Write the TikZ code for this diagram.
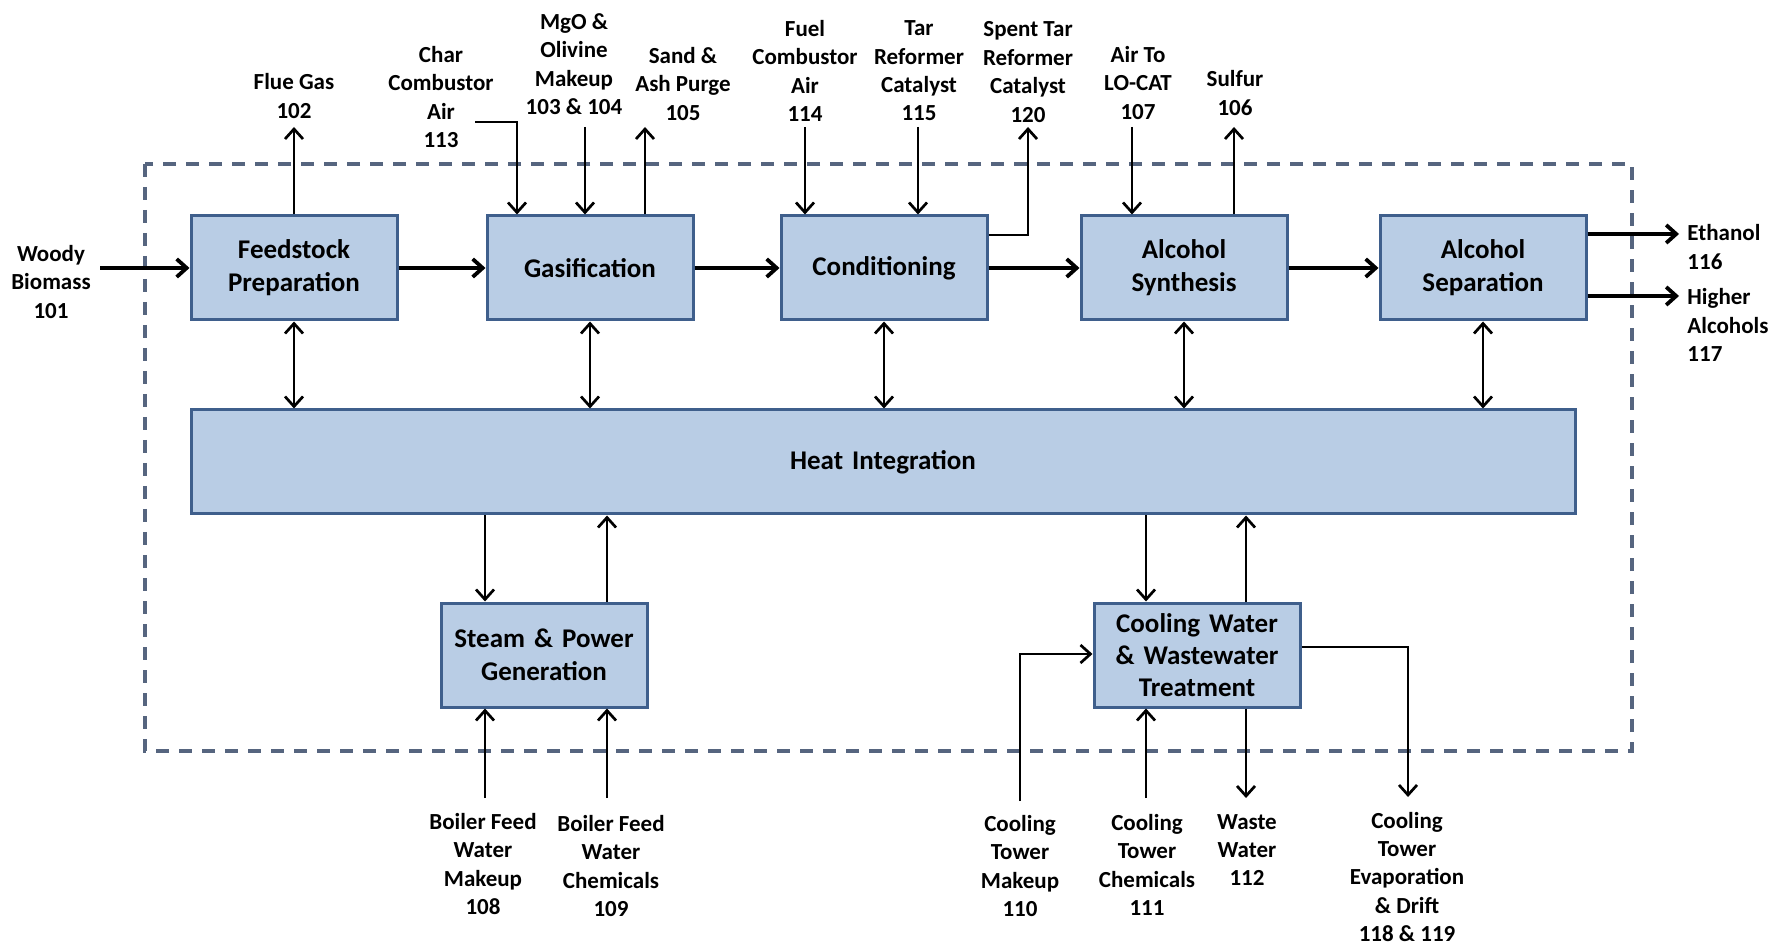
\documentclass[tikz,border=0pt]{standalone}
\usepackage{fontspec}
\setmainfont{Carlito}
\usetikzlibrary{arrows.meta, positioning, calc}
\definecolor{boxfill}{HTML}{B9CDE5}
\definecolor{boxedge}{HTML}{3F5F8C}
\definecolor{limit}{HTML}{56657F}

\begin{document}
\begin{tikzpicture}[x=0.5pt, y=-0.5pt,
    unit/.style={rectangle, draw=boxedge, fill=boxfill, line width=1.5pt, text width=97pt, align=center, inner sep=2pt, minimum width=103pt, minimum height=52pt, font=\fontsize{13.5}{16.5}\selectfont\bfseries},
    stream/.style={align=center, inner sep=0pt, font=\fontsize{11.5}{14.2}\selectfont\bfseries},
    arrow/.style={-{Straight Barb[length=5pt,width=9pt]}, line width=1.35pt},
    main/.style={arrow, line width=1.9pt},
    both/.style={{Straight Barb[length=5pt,width=9pt]}-{Straight Barb[length=5pt,width=9pt]}, line width=1.35pt},
    boundary/.style={draw=limit, line width=1.7pt, dash pattern=on 6.5pt off 5pt}
]
    \useasboundingbox (0,0) rectangle (1775,945);

    % Battery limits
    \draw[boundary] (145,164) rectangle (1632,751);

    % Process areas
    \node[unit] (feed) at (294,268) {Feedstock\\Preparation};
    \node[unit] (gas) at (590,268) {Gasification};
    \node[unit] (cond) at (884,268) {Conditioning};
    \node[unit] (syn) at (1184,268) {Alcohol\\Synthesis};
    \node[unit] (sep) at (1483,268) {Alcohol\\Separation};
    \node[unit, minimum width=692pt] (heat) at (883,462) {Heat Integration};
    \node[unit] (steam) at (544,655) {Steam \& Power\\Generation};
    \node[unit, font=\fontsize{13.5}{16}\selectfont\bfseries] (cool) at (1197,655) {Cooling Water\\\& Wastewater\\Treatment};

    % Stream labels
    \node[stream] (l101) at (51,282) {Woody\\Biomass\\101};
    \node[stream] (l102) at (294,96) {Flue Gas\\102};
    \node[stream] (l113) at (441,97) {Char\\Combustor\\Air\\113};
    \node[stream] (l103) at (574,64) {MgO \&\\Olivine\\Makeup\\103 \& 104};
    \node[stream] (l105) at (683,84) {Sand \&\\Ash Purge\\105};
    \node[stream] (l114) at (805,71) {Fuel\\Combustor\\Air\\114};
    \node[stream] (l115) at (919,71) {Tar\\Reformer\\Catalyst\\115};
    \node[stream] (l120) at (1028,72) {Spent Tar\\Reformer\\Catalyst\\120};
    \node[stream] (l107) at (1138,83) {Air To\\LO-CAT\\107};
    \node[stream] (l106) at (1235,93) {Sulfur\\106};
    \node[stream, align=left, anchor=west] (l116) at (1687,247) {Ethanol\\116};
    \node[stream, align=left, anchor=west] (l117) at (1687,325) {Higher\\Alcohols\\117};
    \node[stream] (l108) at (483,864) {Boiler Feed\\Water\\Makeup\\108};
    \node[stream] (l109) at (611,866) {Boiler Feed\\Water\\Chemicals\\109};
    \node[stream] (l110) at (1020,866) {Cooling\\Tower\\Makeup\\110};
    \node[stream] (l111) at (1147,865) {Cooling\\Tower\\Chemicals\\111};
    \node[stream] (l112) at (1247,850) {Waste\\Water\\112};
    \node[stream] (l118) at (1407,877) {Cooling\\Tower\\Evaporation\\\& Drift\\118 \& 119};

    % Free ends and bends
    \coordinate (s101) at (100,268);
    \coordinate (e102) at (294,127);
    \coordinate (s113) at (475,122);
    \coordinate (k113) at (517,122);
    \coordinate (s103) at (585,127);
    \coordinate (e105) at (645,127);
    \coordinate (s114) at (805,127);
    \coordinate (s115) at (918,127);
    \coordinate (k120) at (1028,235);
    \coordinate (e120) at (1028,127);
    \coordinate (s107) at (1132,127);
    \coordinate (e106) at (1234,127);
    \coordinate (e116) at (1679,234);
    \coordinate (e117) at (1679,296);
    \coordinate (x108) at (485,798);
    \coordinate (x109) at (607,798);
    \coordinate (s110) at (1020,801);
    \coordinate (k110) at (1020,654);
    \coordinate (x111) at (1146,798);
    \coordinate (x112) at (1246,798);
    \coordinate (k118) at (1408,647);
    \coordinate (e118) at (1408,797);

    % Main train
    \draw[main] (s101) -- (feed.west);
    \draw[main] (feed) -- (gas);
    \draw[main] (gas) -- (cond);
    \draw[main] (cond) -- (syn);
    \draw[main] (syn) -- (sep);
    \draw[main] (sep.east |- e116) -- (e116);
    \draw[main] (sep.east |- e117) -- (e117);

    % Streams in and out
    \draw[arrow] (feed.north) -- (e102);
    \draw[arrow] (s113) -- (k113) -- (gas.north -| k113);
    \draw[arrow] (s103) -- (gas.north -| s103);
    \draw[arrow] (gas.north -| e105) -- (e105);
    \draw[arrow] (s114) -- (cond.north -| s114);
    \draw[arrow] (s115) -- (cond.north -| s115);
    \draw[arrow] (cond.east |- k120) -- (k120) -- (e120);
    \draw[arrow] (s107) -- (syn.north -| s107);
    \draw[arrow] (syn.north -| e106) -- (e106);

    % Heat integration
    \draw[both] (feed.south) -- (feed.south |- heat.north);
    \draw[both] (gas.south) -- (gas.south |- heat.north);
    \draw[both] (cond.south) -- (cond.south |- heat.north);
    \draw[both] (syn.south) -- (syn.south |- heat.north);
    \draw[both] (sep.south) -- (sep.south |- heat.north);
    \draw[arrow] (heat.south -| x108) -- (steam.north -| x108);
    \draw[arrow] (steam.north -| x109) -- (heat.south -| x109);
    \draw[arrow] (heat.south -| x111) -- (cool.north -| x111);
    \draw[arrow] (cool.north -| x112) -- (heat.south -| x112);

    % Utilities
    \draw[arrow] (x108) -- (steam.south -| x108);
    \draw[arrow] (x109) -- (steam.south -| x109);
    \draw[arrow] (s110) -- (k110) -- (cool.west |- k110);
    \draw[arrow] (x111) -- (cool.south -| x111);
    \draw[arrow] (cool.south -| x112) -- (x112);
    \draw[arrow] (cool.east |- k118) -- (k118) -- (e118);

\end{tikzpicture}
\end{document}
